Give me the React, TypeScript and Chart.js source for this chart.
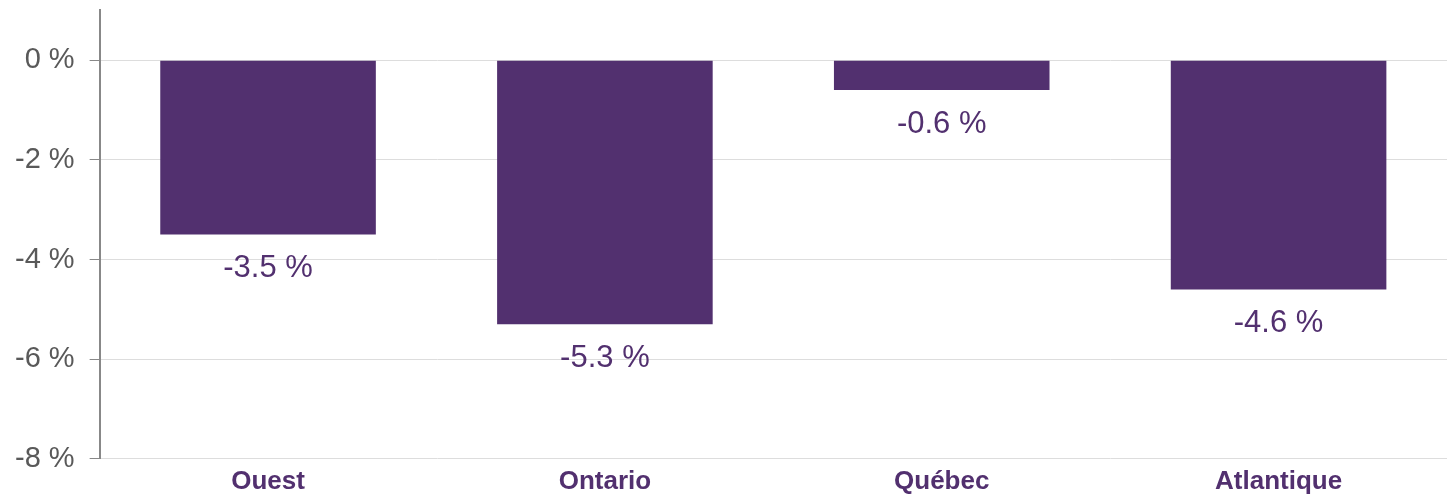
import React, { useEffect, useRef } from "react";
import { Chart, registerables } from "chart.js";

Chart.register(...registerables);

const categories = ["Ouest", "Ontario", "Québec", "Atlantique"];
const values = [-3.5, -5.3, -0.6, -4.6];
const yTicks = [0, -2, -4, -6, -8];

const BAR = "#52306f";
const LABEL = "#52306f";
const FONT = "'Liberation Sans', Arial, sans-serif";

const labelPlugin = {
  id: "barLabels",
  afterDatasetsDraw(chart: any) {
    const ctx = chart.ctx;
    const meta = chart.getDatasetMeta(0);
    ctx.save();
    ctx.font = "31px " + FONT;
    ctx.fillStyle = LABEL;
    ctx.textAlign = "center";
    ctx.textBaseline = "middle";
    meta.data.forEach((bar: any, i: number) => {
      const v = values[i];
      ctx.fillText(v.toFixed(1) + " %", bar.x, bar.y + 34);
    });
    ctx.restore();
  },
};

export default function App() {
  const ref = useRef<HTMLCanvasElement>(null);
  useEffect(() => {
    const chart = new Chart(ref.current!, {
      type: "bar",
      data: {
        labels: categories,
        datasets: [
          {
            data: values,
            backgroundColor: BAR,
            barPercentage: 0.64,
            categoryPercentage: 1,
          },
        ],
      },
      options: {
        animation: false,
        responsive: true,
        maintainAspectRatio: false,
        layout: { padding: { top: 8, right: 0, left: 0, bottom: 0 } },
        plugins: { legend: { display: false }, tooltip: { enabled: false } },
        scales: {
          x: {
            grid: { display: false, drawTicks: false },
            border: { display: false },
            ticks: {
              color: LABEL,
              font: { family: FONT, size: 26, weight: "bold" },
              padding: 7,
            },
          },
          y: {
            min: -8,
            max: 1,
            afterBuildTicks: (axis: any) => {
              axis.ticks = yTicks.map((v) => ({ value: v }));
            },
            grid: { color: "#dddddd", tickColor: "#888888", tickLength: 10, lineWidth: 1 },
            border: { color: "#888888", width: 2 },
            ticks: {
              color: "#595959",
              padding: 15,
              font: { family: FONT, size: 29 },
              callback: (v: any) => v + " %",
            },
          },
        },
      },
      plugins: [labelPlugin],
    });
    return () => chart.destroy();
  }, []);
  return (
    <div style={{ position: "fixed", left: 0, top: -22, width: 1447, height: 526, background: "#fff" }}>
      <canvas ref={ref} />
    </div>
  );
}
